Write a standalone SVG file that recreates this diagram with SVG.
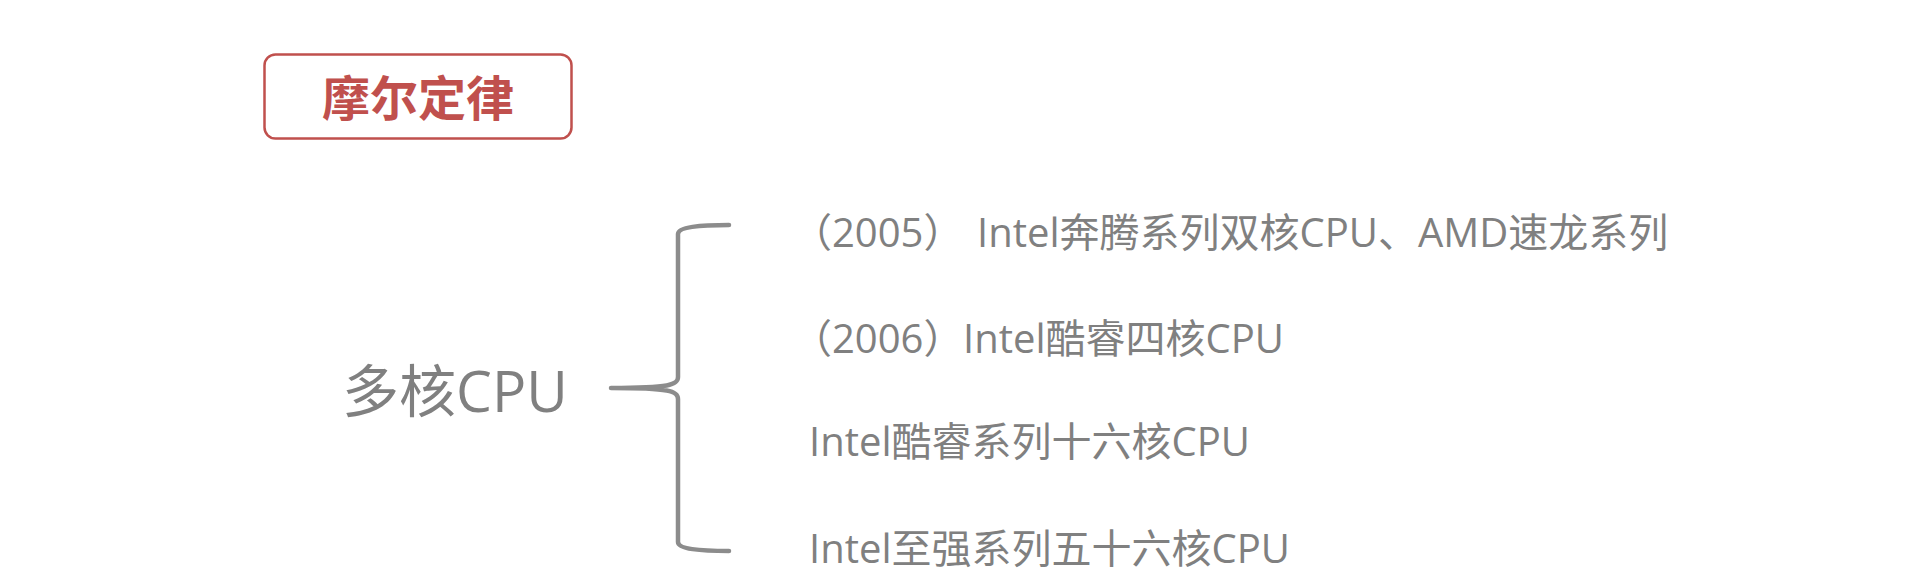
<svg xmlns="http://www.w3.org/2000/svg" width="1920" height="584" viewBox="0 0 1920 584">
<style>
.t{font-family:"Open Sans","Noto Sans CJK SC",sans-serif;fill:#808080;}
.item{font-size:40px;}
.title{font-family:"Noto Sans CJK SC",sans-serif;font-weight:bold;font-size:48px;fill:#c0504d;}
.brace{fill:none;stroke:#8c8c8c;stroke-width:4.5;stroke-linecap:round;stroke-linejoin:round;}
</style>
<rect width="1920" height="584" fill="#ffffff"/>
<g id="title">
<rect x="264.5" y="54.5" width="307" height="84" rx="11" ry="11" fill="#ffffff" stroke="#c0504d" stroke-width="2.5"/>
<text class="title" x="418" y="116" text-anchor="middle">摩尔定律</text>
</g>
<g id="root">
<text class="t" x="342" y="412" font-size="57">多核CPU</text>
</g>
<g id="connectors">
<path class="brace" d="M729,225 C700,225 678,227 678,234 L678,377 C678,385 670,388 611,388 C670,388 678,391 678,399 L678,542 C678,549 700,551 729,551"/>
</g>
<g id="item1">
<text class="t item" x="792" y="247">（2005） <tspan x="977">Intel奔腾系列双核CPU、AMD速龙系列</tspan></text>
</g>
<g id="item2">
<text class="t item" x="792" y="353">（2006）<tspan x="963">Intel酷睿四核CPU</tspan></text>
</g>
<g id="item3">
<text class="t item" x="809" y="456">Intel酷睿系列十六核CPU</text>
</g>
<g id="item4">
<text class="t item" x="809" y="563">Intel至强系列五十六核CPU</text>
</g>
</svg>
